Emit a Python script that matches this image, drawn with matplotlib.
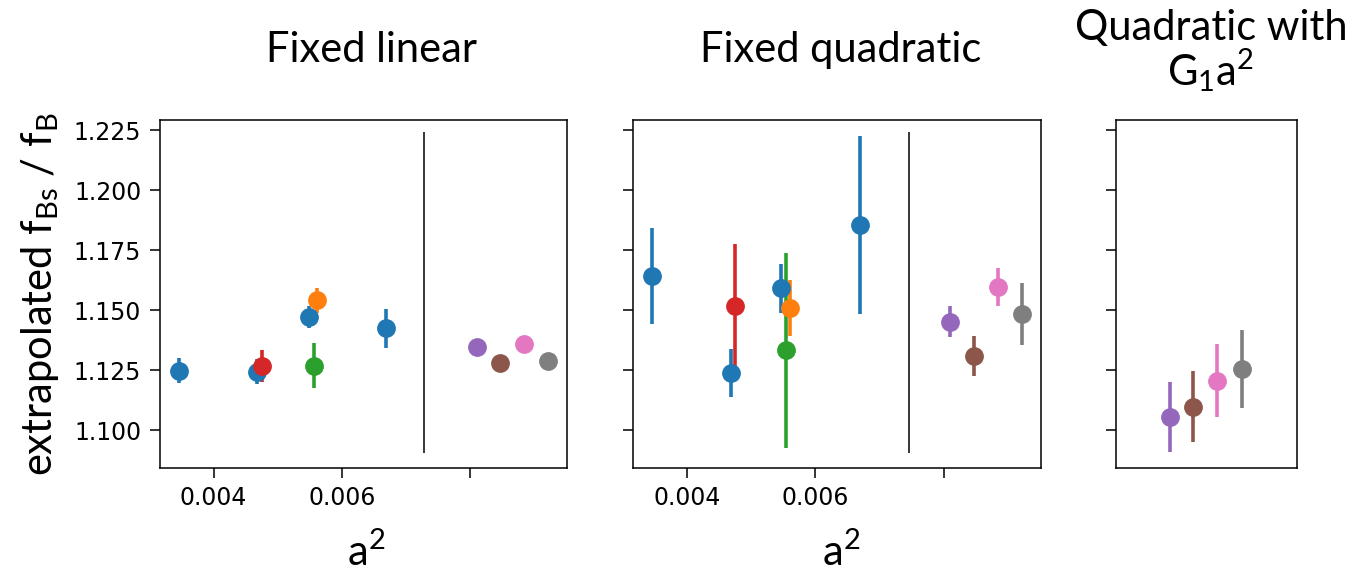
import matplotlib
matplotlib.use("Agg")
import matplotlib.pyplot as plt

plt.rcParams['mathtext.fontset'] = 'custom'
plt.rcParams['mathtext.rm'] = 'Lato'
plt.rcParams['mathtext.it'] = 'Lato'
plt.rcParams['mathtext.bf'] = 'Lato:bold'

# ---- data ----
colors_named = {"blue": "#1f77b4", "orange": "#ff7f0e", "green": "#2ca02c", "red": "#d62728",
                "purple": "#9467bd", "brown": "#8c564b", "pink": "#e377c2", "gray": "#7f7f7f"}

# Fixed linear
lin_blue_x = [0.003455, 0.004676, 0.005481, 0.006691]
lin_blue_y = [1.1247, 1.1243, 1.1470, 1.1424]
lin_blue_e = [0.0052, 0.0053, 0.0045, 0.0081]
lin_other_x = {"green": 0.005558, "orange": 0.005611, "red": 0.004754}
lin_other_y = {"green": 1.1268, "orange": 1.1540, "red": 1.1267}
lin_other_e = {"green": 0.0094, "orange": 0.0053, "red": 0.0065}
lin_right_x = {"purple": 0.008104, "brown": 0.008468, "pink": 0.008842, "gray": 0.009221}
lin_right_y = {"purple": 1.1346, "brown": 1.1278, "pink": 1.1360, "gray": 1.1289}
lin_right_e = {"purple": 0.0015, "brown": 0.0015, "pink": 0.0015, "gray": 0.0015}
lin_vline = 0.007283

# Fixed quadratic
quad_blue_x = [0.003455, 0.004681, 0.005468, 0.006694]
quad_blue_y = [1.1642, 1.1238, 1.1590, 1.1855]
quad_blue_e = [0.0199, 0.0099, 0.0103, 0.0372]
quad_other_x = {"green": 0.005546, "orange": 0.005603, "red": 0.004743}
quad_other_y = {"green": 1.1332, "orange": 1.1508, "red": 1.1517}
quad_other_e = {"green": 0.0405, "orange": 0.0118, "red": 0.0257}
quad_right_x = {"purple": 0.008098, "brown": 0.008462, "pink": 0.008836, "gray": 0.009210}
quad_right_y = {"purple": 1.1451, "brown": 1.1308, "pink": 1.1595, "gray": 1.1483}
quad_right_e = {"purple": 0.0064, "brown": 0.0083, "pink": 0.0080, "gray": 0.0129}
quad_vline = 0.007455

# Quadratic with G1 a^2
g1_x = {"purple": 0.008100, "brown": 0.008465, "pink": 0.008839, "gray": 0.009220}
g1_y = {"purple": 1.1056, "brown": 1.1097, "pink": 1.1206, "gray": 1.1253}
g1_e = {"purple": 0.0146, "brown": 0.0147, "pink": 0.0153, "gray": 0.0163}

yticks = [1.100, 1.125, 1.150, 1.175, 1.200, 1.225]
xticks = [0.004, 0.006, 0.008]
xticklabels = ["0.004", "0.006", ""]
titles = ["Fixed linear", "Fixed quadratic", "Quadratic with\nG$_1$a$^2$"]

# ---- figure ----
W, H = 1355, 571
fig = plt.figure(figsize=(W / 100, H / 100), dpi=100)

def px_axes(l, t, r, b):
    return fig.add_axes([l / W, 1 - b / H, (r - l) / W, (b - t) / H])

ax1 = px_axes(160, 120, 566.7, 467.7)
ax2 = px_axes(633.3, 120, 1040.7, 467.7)
ax3 = px_axes(1115.7, 120, 1297.3, 467.7)

ms = 12.5
elw = 2.6
ylim = (1.0843, 1.2292)

def eb(ax, x, y, e, c):
    ax.errorbar(x, y, yerr=e, fmt='o', color=c, ms=ms, elinewidth=elw, capsize=0)

for ax, bx, by, be, ox, oy, oe, rx, ry, re_, vx in [
        (ax1, lin_blue_x, lin_blue_y, lin_blue_e, lin_other_x, lin_other_y, lin_other_e,
         lin_right_x, lin_right_y, lin_right_e, lin_vline),
        (ax2, quad_blue_x, quad_blue_y, quad_blue_e, quad_other_x, quad_other_y, quad_other_e,
         quad_right_x, quad_right_y, quad_right_e, quad_vline)]:
    eb(ax, ox["green"], oy["green"], oe["green"], colors_named["green"])
    eb(ax, bx, by, be, colors_named["blue"])
    eb(ax, ox["orange"], oy["orange"], oe["orange"], colors_named["orange"])
    eb(ax, ox["red"], oy["red"], oe["red"], colors_named["red"])
    for k in ["purple", "brown", "pink", "gray"]:
        eb(ax, rx[k], ry[k], re_[k], colors_named[k])
    ax.vlines(vx, 1.0903, 1.2243, color='black', lw=1.1)
    ax.set_xlim(0.003163, 0.009507)
    ax.set_xticks(xticks)
    ax.set_xticklabels(xticklabels)

for k in ["purple", "brown", "pink", "gray"]:
    eb(ax3, g1_x[k], g1_y[k], g1_e[k], colors_named[k])
ax3.set_xlim(0.007254, 0.010084)
ax3.set_xticks([])

for ax in (ax1, ax2, ax3):
    ax.set_ylim(*ylim)
    ax.set_yticks(yticks)
    ax.tick_params(axis='both', length=7.5, width=1.1, labelsize=17, pad=6)
    for s in ax.spines.values():
        s.set_linewidth(1.1)
ax1.set_yticklabels([f"{v:.3f}" for v in yticks])
ax2.set_yticklabels([])
ax3.set_yticklabels([])

big = dict(family='Lato', fontsize=30)
fig.text(371 / W, 1 - 61.7 / H, titles[0], ha='center', va='baseline', **big)
fig.text(841 / W, 1 - 61.7 / H, titles[1], ha='center', va='baseline', **big)
fig.text(1211 / W, 1 - 85 / H, titles[2], ha='center', va='baseline',
         multialignment='center', linespacing=0.98, **big)

fig.text(366 / W, 1 - 566.5 / H, r"a$^2$", ha='center', va='baseline', **big)
fig.text(841 / W, 1 - 566.5 / H, r"a$^2$", ha='center', va='baseline', **big)
fig.text(40 / W, 1 - 294 / H, r"extrapolated f$_{\mathrm{Bs}}$ / f$_{\mathrm{B}}$",
         ha='center', va='center', rotation=90, **big)

fig.savefig("out.png", dpi=100)
